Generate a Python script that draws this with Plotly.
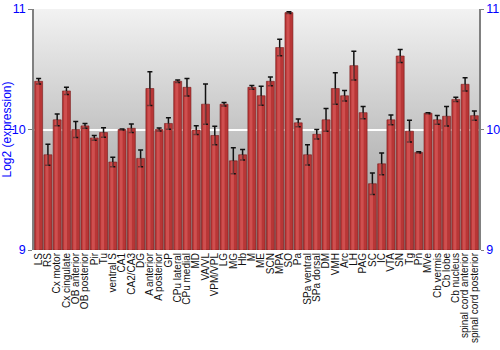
import base64
import plotly.graph_objects as go

regions = ["LS", "RS", "Cx motor", "Cx cingulate", "OB anterior", "OB posterior", "Pir", "Tu",
           "ventral S", "CA1", "CA2/CA3", "DG", "A anterior", "A posterior", "GP", "CPu lateral",
           "CPu medial", "MD", "VA/VL", "VPM/VPL", "LG", "MG", "Hb", "M", "ME", "SCN", "MPA", "SO",
           "Pa", "SPa ventral", "SPa dorsal", "DM", "VMH", "Arc", "LH", "PAG", "SC", "IC", "VTA",
           "SN", "Tg", "Pn", "MVe", "Cb vermis", "Cb lobe", "Cb nucleus", "spinal cord anterior",
           "spinal cord posterior"]

expression = [10.40, 9.79, 10.08, 10.32, 10.00, 10.03, 9.93, 9.975,
              9.73, 10.00, 10.01, 9.76, 10.34, 10.00, 10.05, 10.40,
              10.35, 9.995, 10.21, 9.95, 10.21, 9.74, 9.79, 10.35, 10.28, 10.40, 10.68, 10.97,
              10.055, 9.79, 9.96, 10.08, 10.34, 10.28, 10.53, 10.14, 9.55, 9.715, 10.08,
              10.61, 9.986, 9.81, 10.135, 10.08, 10.11, 10.25, 10.375,
              10.115]

error = [0.023, 0.087, 0.048, 0.03, 0.066, 0.02, 0.02, 0.04,
         0.04, 0.005, 0.035, 0.07, 0.14, 0.012, 0.048, 0.01,
         0.073, 0.036, 0.167, 0.077, 0.015, 0.108, 0.044, 0.015, 0.079, 0.036, 0.068, 0.008,
         0.033, 0.084, 0.039, 0.095, 0.13, 0.044, 0.12, 0.05, 0.09, 0.09, 0.04,
         0.054, 0.09, 0.005, 0.005, 0.037, 0.08, 0.018, 0.055,
         0.039]

y_ticks = [9, 10, 11]
y_range = [9, 11]

idx = list(range(len(regions)))
x_lo, x_hi = -0.5, len(regions) - 0.5
heights = [v - y_range[0] for v in expression]

# vertical gray gradient for the plot background
svg = ('<svg xmlns="http://www.w3.org/2000/svg" width="10" height="100" preserveAspectRatio="none">'
       '<defs><linearGradient id="g" x1="0" y1="0" x2="0" y2="1">'
       '<stop offset="0" stop-color="#f2f2f2"/><stop offset="1" stop-color="#979797"/>'
       '</linearGradient></defs><rect width="10" height="100" fill="url(#g)"/></svg>')
bg_src = "data:image/svg+xml;base64," + base64.b64encode(svg.encode()).decode()

fig = go.Figure()

fig.add_trace(go.Bar(
    x=idx, y=heights, base=y_range[0], width=0.86,
    marker=dict(color="#b83636", line=dict(color="rgba(120,25,25,0.6)", width=1)),
    error_y=dict(type="data", array=error, color="#111111", thickness=1.5, width=2.5),
    showlegend=False))

# lighter sheen on each bar (same data, narrower)
fig.add_trace(go.Bar(
    x=idx, y=heights, base=y_range[0], width=0.32, offset=-0.26,
    marker=dict(color="rgba(235,110,110,0.45)", line=dict(width=0)),
    hoverinfo="skip", showlegend=False))

# invisible trace to carry the right-hand axis
fig.add_trace(go.Scatter(x=idx, y=expression, yaxis="y2", mode="markers",
                         marker=dict(opacity=0), hoverinfo="skip", showlegend=False))

fig.add_layout_image(dict(source=bg_src, xref="paper", yref="paper", x=0, y=1,
                          sizex=1, sizey=1, sizing="stretch", xanchor="left", yanchor="top",
                          layer="below"))

fig.update_layout(
    width=500, height=350,
    margin=dict(l=34, r=21, t=9, b=100),
    paper_bgcolor="white", plot_bgcolor="#c8c8c8",
    barmode="overlay",
    font=dict(family="Liberation Sans, Arial, sans-serif"),
    xaxis=dict(range=[x_lo, x_hi], tickmode="array", tickvals=idx, ticktext=regions,
               tickangle=-90, tickfont=dict(size=10, color="#111111"), automargin=False,
               showgrid=False, zeroline=False, showline=False, ticks="", ticklen=0),
    yaxis=dict(range=y_range, tickvals=y_ticks, tickfont=dict(size=12.5, color="#0000ff"),
               title=dict(text="Log2 (expression)", font=dict(size=12, color="#0000ff"), standoff=0),
               showgrid=True, gridcolor="white", gridwidth=1.5, zeroline=False, automargin=False,
               showline=True, linecolor="#808080", linewidth=1.5, mirror=True,
               ticks="outside", ticklen=4, tickcolor="#808080", layer="above traces"),
    yaxis2=dict(range=y_range, tickvals=y_ticks, overlaying="y", side="right",
                tickfont=dict(size=12.5, color="#0000ff"), showgrid=False, zeroline=False,
                showline=True, linecolor="#808080", linewidth=1.5, automargin=False,
                ticks="outside", ticklen=3, tickcolor="#808080"),
)

fig.write_html("out.html")
